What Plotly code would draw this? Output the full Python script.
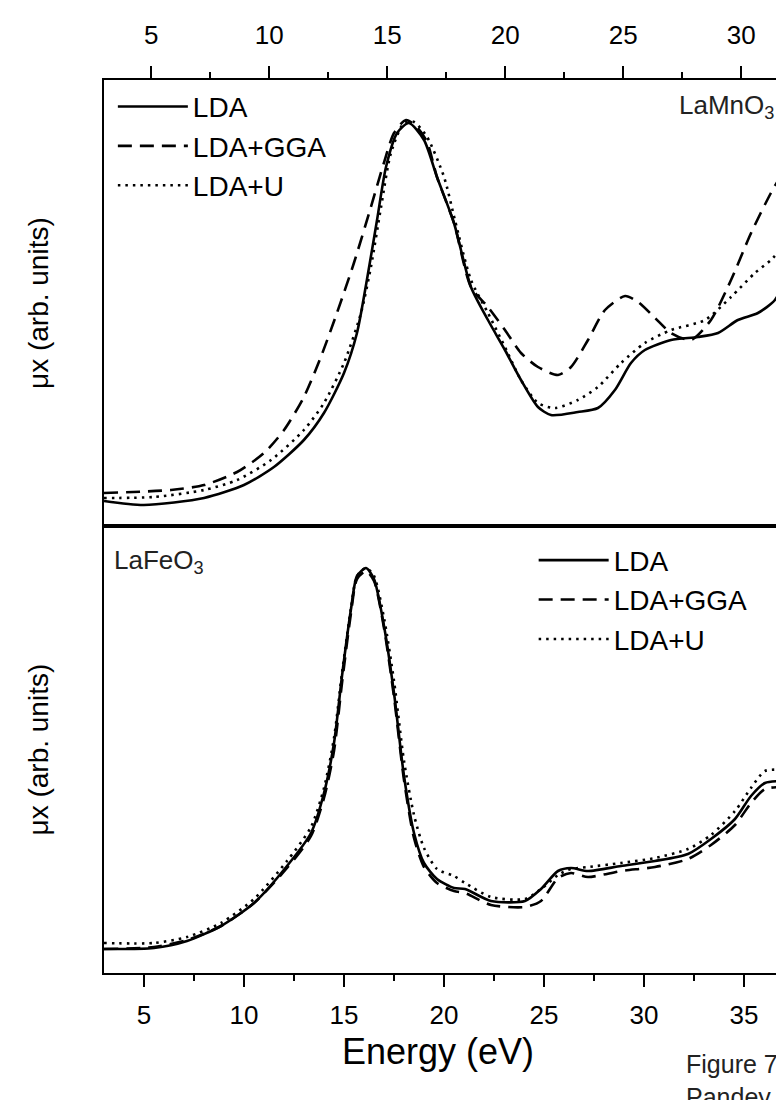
import plotly.graph_objects as go

# ---------------- Top panel: LaMnO3 (energy in eV, mu*x in arb. units) ----------------
mn_lda_E = [3.00, 4.69, 7.24, 8.93, 10.20, 11.47, 12.32, 13.17, 13.72, 14.14, 14.57, 14.95,
            15.42, 15.92, 16.56, 17.11, 17.83, 18.55, 19.27, 19.99, 20.67, 21.39, 21.94,
            23.08, 23.93, 24.65, 25.33, 25.92, 27.03, 28.17, 29.02, 29.86, 30.71, 31.43, 31.90]
mn_lda_mu = [25, 21, 28, 41, 59, 86, 113, 153, 193, 246, 306, 359,
             393, 403, 386, 349, 303, 239, 206, 176, 146, 119, 111,
             114, 118, 136, 163, 176, 186, 189, 193, 206, 213, 226, 249]

mn_gga_E = [3.00, 5.84, 7.24, 8.64, 9.78, 10.63, 11.47, 12.19, 12.87, 13.59, 14.31, 14.86,
            15.29, 15.80, 16.26, 16.69, 17.11, 17.83, 18.55, 19.27, 19.99, 20.67, 21.39,
            22.24, 22.79, 23.51, 24.23, 25.08, 25.63, 26.35, 27.03, 27.87, 28.72, 29.57,
            30.42, 31.26, 31.90]
mn_gga_mu = [33, 36, 41, 54, 73, 96, 129, 169, 213, 263, 319, 363,
             393, 406, 399, 384, 349, 303, 239, 219, 196, 173, 159,
             151, 159, 186, 216, 230, 224, 208, 193, 186, 206, 246,
             293, 333, 359]

mn_u_E = [3.00, 5.12, 7.24, 8.64, 10.08, 11.47, 12.32, 13.17, 13.89, 14.31, 14.74, 15.16,
          15.71, 16.14, 16.69, 17.41, 17.87, 18.55, 19.27, 19.99, 20.67, 21.39, 22.11,
          23.08, 23.93, 24.91, 25.92, 27.03, 28.47, 29.57, 30.58, 31.26, 31.90]
mn_u_mu = [28, 29, 36, 46, 66, 96, 123, 163, 213, 259, 319, 373,
           403, 404, 389, 349, 306, 246, 213, 179, 146, 123, 118,
           126, 139, 163, 183, 196, 206, 229, 253, 266, 283]

# ---------------- Bottom panel: LaFeO3 ----------------
fe_E = [3.0, 5.5, 7.15, 8.85, 10.5, 12.15, 13.35, 14.0, 14.5, 14.9, 15.35, 15.65, 16.1,
        16.5, 17.0, 17.5, 18.0, 18.5, 19.0, 19.65, 20.5, 21.05, 22.35, 24.05, 24.85,
        25.7, 26.35, 27.2, 28.85, 30.55, 32.2, 33.35, 34.55, 35.35, 36.05, 37.1]
fe_lda_mu = [24, 25, 32, 47, 70, 107, 140, 180, 230, 297, 364, 397, 405,
             394, 347, 280, 197, 140, 110, 94, 85, 84, 72, 72, 84,
             102, 105, 102, 107, 112, 119, 134, 154, 177, 190, 192]
fe_gga_mu = [24, 26, 33, 47, 70, 105, 137, 175, 222, 290, 360, 394, 402,
             392, 345, 276, 193, 135, 106, 90, 82, 80, 68, 66, 72,
             95, 100, 96, 102, 106, 114, 128, 148, 170, 184, 186]
fe_u_mu = [30, 30, 36, 50, 74, 112, 146, 185, 235, 300, 365, 397, 405,
           397, 355, 292, 212, 158, 125, 104, 97, 90, 76, 74, 84,
           98, 104, 106, 110, 115, 124, 138, 162, 185, 202, 203]

series_names = ["LDA", "LDA+GGA", "LDA+U"]
dashes = ["solid", "14px,8px", "2.5px,5px"]

top_x_range = [3, 31.9]
bottom_x_range = [3, 37.1]
top_tick_labels = [5, 10, 15, 20, 25, 30]
bottom_tick_labels = [5, 10, 15, 20, 25, 30, 35]

FONT = "Liberation Sans, Arial, Helvetica, sans-serif"

fig = go.Figure()

top_sets = [(mn_lda_E, mn_lda_mu), (mn_gga_E, mn_gga_mu), (mn_u_E, mn_u_mu)]
for (E, mu), name, dash in zip(top_sets, series_names, dashes):
    fig.add_trace(go.Scatter(
        x=E, y=mu, xaxis="x", yaxis="y", mode="lines", name=name, legend="legend",
        line=dict(color="black", width=2.6, dash=dash, shape="spline", smoothing=0.7),
    ))

bottom_sets = [fe_lda_mu, fe_gga_mu, fe_u_mu]
for mu, name, dash in zip(bottom_sets, series_names, dashes):
    fig.add_trace(go.Scatter(
        x=fe_E, y=mu, xaxis="x2", yaxis="y2", mode="lines", name=name, legend="legend2",
        line=dict(color="black", width=2.6, dash=dash, shape="spline", smoothing=0.7),
    ))

split = 447 / 893

common_x = dict(
    ticks="outside", ticklen=12, tickwidth=2, tickcolor="black",
    minor=dict(dtick=2.5, ticks="outside", ticklen=6, tickwidth=1.5, tickcolor="black"),
    showline=True, mirror=True, linewidth=2, linecolor="black", automargin=False,
    showgrid=False, zeroline=False, tickfont=dict(size=26, family=FONT, color="black"),
    tickmode="array",
)
common_y = dict(
    showline=True, mirror=True, linewidth=2, linecolor="black", automargin=False,
    showgrid=False, zeroline=False, showticklabels=False, ticks="",
)

fig.update_layout(
    width=784, height=1100,
    margin=dict(l=96, r=6, t=72, b=135, autoexpand=False),
    paper_bgcolor="white", plot_bgcolor="white",
    font=dict(family=FONT, color="black"),
    xaxis=dict(common_x, domain=[0, 1], anchor="y", side="top", range=top_x_range,
               tickvals=top_tick_labels, ticklabelstandoff=12),
    yaxis=dict(common_y, domain=[split, 1], anchor="x", range=[0, 446]),
    xaxis2=dict(common_x, domain=[0, 1], anchor="y2", side="bottom", range=bottom_x_range,
                tickvals=bottom_tick_labels, ticklabelstandoff=6),
    yaxis2=dict(common_y, domain=[0, split], anchor="x2", range=[0, 447]),
    legend=dict(x=0.013, y=0.998, xanchor="left", yanchor="top", font=dict(size=28, family=FONT),
                itemwidth=70, bgcolor="rgba(0,0,0,0)", borderwidth=0),
    legend2=dict(x=0.63, y=0.490, xanchor="left", yanchor="top", font=dict(size=28, family=FONT),
                 itemwidth=70, bgcolor="rgba(0,0,0,0)", borderwidth=0),
    showlegend=True,
)

ylabel = "\u03bcx (arb. units)"
fig.add_annotation(text=ylabel, textangle=-90, xref="paper", yref="y domain",
                   x=-66 / 682, y=0.5, xanchor="center", yanchor="middle", showarrow=False,
                   font=dict(size=28, family=FONT))
fig.add_annotation(text=ylabel, textangle=-90, xref="paper", yref="y2 domain",
                   x=-66 / 682, y=0.5, xanchor="center", yanchor="middle", showarrow=False,
                   font=dict(size=28, family=FONT))
fig.add_annotation(text="LaMnO<sub>3</sub>", xref="x domain", yref="y domain",
                   x=0.985, y=0.94, xanchor="right", yanchor="middle", showarrow=False,
                   font=dict(size=26, family=FONT, color="#222"))
fig.add_annotation(text="LaFeO<sub>3</sub>", xref="x2 domain", yref="y2 domain",
                   x=0.012, y=0.92, xanchor="left", yanchor="middle", showarrow=False,
                   font=dict(size=26, family=FONT, color="#222"))
fig.add_annotation(text="Energy (eV)", xref="paper", yref="paper",
                   x=(430 - 96) / 682, y=-78 / 893, xanchor="center", yanchor="middle",
                   showarrow=False, font=dict(size=36, family=FONT))
fig.add_annotation(text="Figure 7<br>Pandey", xref="paper", yref="paper",
                   x=(676 - 96) / 682, y=-(1040 - 965) / 893, xanchor="left", yanchor="top",
                   align="left", showarrow=False, font=dict(size=25, family=FONT, color="#222"))

fig.write_html("out.html")
